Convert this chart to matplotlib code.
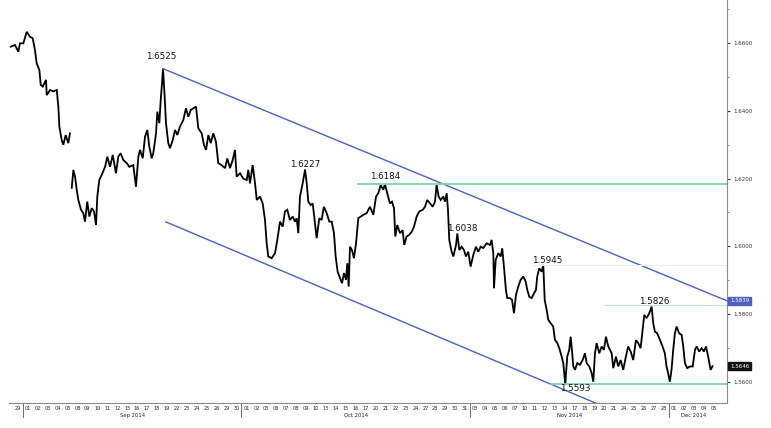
import numpy as np
import matplotlib
matplotlib.use("Agg")
import matplotlib.pyplot as plt
import matplotlib.transforms as mtransforms

# GBP/USD, time in trading days since 29 Aug 2014 (weekends removed)
t_days = [
    -0.21, 0.22, 0.55, 0.72, 1.06, 1.40, 1.73, 2.00, 2.23, 2.40, 2.67, 2.81, 3.01, 3.34, 3.41,
    3.74, 4.07, 4.42, 4.58, 4.68, 4.92, 5.08, 5.32, 5.58, 5.75, 5.85,
    5.93, 6.09, 6.26, 6.43, 6.59, 6.86, 7.09, 7.26, 7.49, 7.70, 7.94, 8.17, 8.37, 8.50, 8.70,
    8.94, 9.28, 9.51, 9.78, 10.05, 10.38, 10.61, 10.85, 11.12, 11.46, 11.72, 12.12, 12.39,
    12.63, 12.80, 13.07, 13.30, 13.53, 13.73, 13.97, 14.13, 14.41, 14.54, 14.74, 14.88, 15.01,
    15.11, 15.24, 15.41, 15.64, 15.81, 16.09, 16.32, 16.55, 16.82, 17.15, 17.42, 17.66, 17.90,
    18.16, 18.43, 18.66, 19.00, 19.23, 19.44, 19.67, 19.91, 20.17, 20.44, 20.67, 21.01, 21.35,
    21.58, 21.85, 22.12, 22.35, 22.52, 22.86, 23.19, 23.53, 23.69, 23.86, 24.13, 24.37, 24.54,
    24.87, 25.14, 25.37, 25.54, 25.70, 26.04, 26.38, 26.61, 26.88, 27.15, 27.38, 27.61, 27.88,
    28.16, 28.39, 28.56, 28.72, 28.89, 29.16, 29.40, 29.57, 29.73, 29.97, 30.17, 30.40, 30.57,
    30.83, 31.07, 31.30, 31.58, 31.84, 32.08, 32.31, 32.48, 32.68, 32.92, 33.12, 33.32, 33.52,
    33.65, 33.79, 33.92, 34.12, 34.32, 34.53, 34.76, 35.00, 35.26, 35.60, 35.93, 36.27, 36.54,
    36.77, 37.01, 37.27, 37.44, 37.67, 37.94, 38.15, 38.35, 38.48, 38.68, 38.95, 39.22, 39.38,
    39.62, 39.89, 40.13, 40.36, 40.63, 40.89, 41.24, 41.47, 41.70, 41.97, 42.24, 42.47, 42.64,
    42.84, 43.05, 43.31, 43.48, 43.65, 43.78, 43.91, 44.15, 44.32, 44.59, 44.72, 44.92, 45.16,
    45.39, 45.59, 45.82, 46.06, 46.33, 46.60, 46.83, 47.07, 47.33, 47.67, 48.00, 48.17, 48.34,
    48.41, 48.58, 48.84, 49.08, 49.24, 49.41, 49.61, 49.75, 50.02, 50.22, 50.42, 50.62, 50.85,
    51.09, 51.36, 51.60, 51.76, 51.96, 52.20, 52.43, 52.63, 52.76, 52.96, 53.20, 53.37, 53.51,
    53.71, 53.87, 54.11, 54.37, 54.54, 54.78, 54.98, 55.22, 55.38, 55.58, 55.78, 55.98, 56.12,
    56.25, 56.39, 56.56, 56.79, 57.06, 57.33, 57.56, 57.73, 58.00, 58.24, 58.40, 58.57, 58.74,
    59.00, 59.24, 59.47, 59.67, 59.91, 60.25, 60.41, 60.68, 60.91, 61.15, 61.41, 61.68, 61.91,
    62.16, 62.42, 62.69, 62.92, 63.16, 63.36, 63.53, 63.77, 64.03, 64.27, 64.43, 64.60, 64.83,
    65.10, 65.37, 65.60, 65.77, 65.93, 66.10, 66.27, 66.44, 66.61, 66.78, 67.04, 67.29, 67.45,
    67.62, 67.85, 68.12, 68.40, 68.63, 68.80, 69.06, 69.30, 69.53, 69.74, 69.96, 70.20, 70.40,
]
price = [
    1.6590, 1.6595, 1.6575, 1.6600, 1.6600, 1.6634, 1.6619, 1.6615, 1.6580, 1.6541, 1.6521, 1.6477, 1.6472, 1.6492, 1.6447,
    1.6462, 1.6458, 1.6462, 1.6413, 1.6354, 1.6314, 1.6300, 1.6329, 1.6305, 1.6334, np.nan,
    1.6173, 1.6226, 1.6206, 1.6167, 1.6137, 1.6108, 1.6098, 1.6073, 1.6132, 1.6088, 1.6113, 1.6103, 1.6063, 1.6147, 1.6196,
    1.6211, 1.6235, 1.6265, 1.6235, 1.6270, 1.6216, 1.6265, 1.6275, 1.6255, 1.6246, 1.6235, 1.6240, 1.6176,
    1.6265, 1.6285, 1.6260, 1.6324, 1.6344, 1.6295, 1.6260, 1.6275, 1.6334, 1.6398, 1.6364, 1.6433, 1.6482,
    1.6525, 1.6462, 1.6364, 1.6305, 1.6290, 1.6314, 1.6344, 1.6329, 1.6354, 1.6373, 1.6408, 1.6383, 1.6403,
    1.6408, 1.6413, 1.6349, 1.6334, 1.6300, 1.6285, 1.6329, 1.6305, 1.6334, 1.6309, 1.6246, 1.6240, 1.6231,
    1.6260, 1.6231, 1.6255, 1.6285, 1.6206, 1.6216, 1.6200, 1.6196, 1.6226, 1.6186, 1.6240, 1.6186, 1.6137,
    1.6147, 1.6127, 1.6078, 1.6009, 1.5970, 1.5965, 1.5980, 1.6019, 1.6073, 1.6058, 1.6103, 1.6108, 1.6078,
    1.6088, 1.6073, 1.6083, 1.6039, 1.6147, 1.6186, 1.6227, 1.6186, 1.6132, 1.6122, 1.6127, 1.6068, 1.6024,
    1.6083, 1.6078, 1.6117, 1.6098, 1.6073, 1.6073, 1.6039, 1.5970, 1.5925, 1.5906, 1.5891, 1.5921, 1.5901,
    1.5950, 1.5881, 1.5999, 1.5989, 1.5965, 1.6009, 1.6083, 1.6088, 1.6093, 1.6098, 1.6117, 1.6093, 1.6147,
    1.6157, 1.6181, 1.6167, 1.6184, 1.6157, 1.6127, 1.6132, 1.6113, 1.6029, 1.6063, 1.6039, 1.6048, 1.6004,
    1.6029, 1.6034, 1.6043, 1.6058, 1.6088, 1.6103, 1.6108, 1.6117, 1.6137, 1.6127, 1.6117, 1.6132, 1.6181,
    1.6147, 1.6137, 1.6147, 1.6132, 1.6157, 1.6108, 1.6019, 1.5984, 1.5970, 1.6004, 1.6038, 1.5989, 1.5999,
    1.5989, 1.5970, 1.5984, 1.5940, 1.5975, 1.5999, 1.5984, 1.5999, 1.5995, 1.6009, 1.6004, 1.6019, 1.5980,
    1.5876, 1.5960, 1.5980, 1.5970, 1.5994, 1.5940, 1.5871, 1.5847, 1.5847, 1.5842, 1.5802, 1.5856, 1.5881,
    1.5901, 1.5911, 1.5896, 1.5871, 1.5851, 1.5847, 1.5861, 1.5871, 1.5911, 1.5935, 1.5925, 1.5945, 1.5842,
    1.5812, 1.5783, 1.5773, 1.5763, 1.5724, 1.5714, 1.5699, 1.5674, 1.5655, 1.5593, 1.5674, 1.5694, 1.5733,
    1.5694, 1.5645, 1.5635, 1.5655, 1.5650, 1.5664, 1.5684, 1.5655, 1.5645, 1.5625, 1.5600, 1.5684, 1.5714,
    1.5684, 1.5704, 1.5694, 1.5733, 1.5704, 1.5684, 1.5640, 1.5674, 1.5645, 1.5664, 1.5635, 1.5674, 1.5704,
    1.5689, 1.5664, 1.5723, 1.5714, 1.5699, 1.5753, 1.5797, 1.5788, 1.5802, 1.5822, 1.5773, 1.5748, 1.5743,
    1.5724, 1.5704, 1.5684, 1.5645, 1.5625, 1.5600, 1.5635, 1.5694, 1.5743, 1.5763, 1.5743, 1.5738, 1.5704,
    1.5655, 1.5640, 1.5645, 1.5645, 1.5694, 1.5704, 1.5689, 1.5699, 1.5689, 1.5704, 1.5674, 1.5635, 1.5646,
]

day_labels = ['29',
    '01', '02', '03', '04', '05', '08', '09', '10', '11', '12', '15', '16', '17', '18', '19',
    '22', '23', '24', '25', '26', '29', '30',
    '01', '02', '03', '06', '07', '08', '09', '10', '13', '14', '15', '16', '17', '20', '21',
    '22', '23', '24', '27', '28', '29', '30', '31',
    '03', '04', '05', '06', '07', '10', '11', '12', '13', '14', '17', '18', '19', '20', '21',
    '24', '25', '26', '27', '28',
    '01', '02', '03', '04', '05']
month_names = ['Sep 2014', 'Oct 2014', 'Nov 2014', 'Dec 2014']
month_start = [1, 23, 46, 66]
month_end = [23, 46, 66, 71]

# annotated swing levels: (day, level, text)
swing_day = [14.9, 29.4, 37.5, 45.2, 53.8, 64.5, 56.6]
swing_val = [1.6562, 1.6243, 1.6206, 1.6053, 1.5957, 1.5837, 1.5581]
swing_txt = ['1.6525', '1.6227', '1.6184', '1.6038', '1.5945', '1.5826', '1.5593']

# channel lines (day, level)
upper_chan = ([15.11, 71.85], [1.6525, 1.5839])
lower_chan = ([15.41, 62.0], [1.6072, 1.5495])

# horizontal levels: (start day, level, colour, width)
h_start = [34.7, 54.1, 52.3, 59.6]
h_level = [1.6184, 1.5593, 1.5945, 1.5826]
h_color = ['#7fd4a8', '#7fd4a8', '#e3efe9', '#c4e4da']
h_width = [1.3, 1.3, 0.8, 0.8]

last_price = 1.5646
chan_end = 1.5839

XMIN, XMAX = -1.29, 71.85
YMIN, YMAX = 1.5537, 1.6728

fig = plt.figure(figsize=(7.71, 4.28), dpi=100)
ax = fig.add_axes([0.0, 0.0584, 0.9429, 0.9416])

ax.plot(t_days, price, color='black', lw=1.3, solid_joinstyle='miter')

ax.plot(upper_chan[0], upper_chan[1], color='#4b5fc6', lw=1.0)
ax.plot(lower_chan[0], lower_chan[1], color='#4b5fc6', lw=1.0)

for s, lv, c, w in zip(h_start, h_level, h_color, h_width):
    ax.plot([s, XMAX], [lv, lv], color=c, lw=w)

for d, v, txt in zip(swing_day, swing_val, swing_txt):
    ax.text(d, v, txt, ha='center', va='center', fontsize=6.3, color='#111111')

ax.set_xlim(XMIN, XMAX)
ax.set_ylim(YMIN, YMAX)

# right hand price axis
ax.yaxis.tick_right()
ax.set_yticks(np.arange(1.56, 1.6601, 0.02))
ax.set_yticklabels(['%.4f' % v for v in np.arange(1.56, 1.6601, 0.02)])
ax.set_yticks(np.arange(1.57, 1.6701, 0.02), minor=True)
ax.tick_params(axis='y', which='major', length=2.5, width=0.8, pad=2,
               labelsize=4, colors='#333333')
ax.tick_params(axis='y', which='minor', length=1.5, width=0.6, colors='#777777')

# day labels along the bottom
ax.set_xticks(np.arange(len(day_labels)) + 0.5)
ax.set_xticklabels(day_labels)
ax.tick_params(axis='x', length=0, pad=2.5, labelsize=3.6, colors='#222222')

for sp in ['left', 'top']:
    ax.spines[sp].set_visible(False)
ax.spines['right'].set_color('#8a8a8a')
ax.spines['bottom'].set_color('#8a8a8a')
ax.spines['right'].set_linewidth(0.8)
ax.spines['bottom'].set_linewidth(0.8)
ax.spines['bottom'].set_bounds(-0.4, XMAX)

trans = mtransforms.blended_transform_factory(ax.transData, ax.transAxes)
for ms, me, name in zip(month_start, month_end, month_names):
    ax.plot([ms, ms], [0, -0.035], transform=trans, color='#555555', lw=0.6, clip_on=False)
    ax.text((ms + me) / 2.0, -0.032, name, transform=trans, ha='center', va='center',
            fontsize=3.8, color='#222222')

# boxed value tags on the price axis
ax.text(1.004, chan_end, '%.4f' % chan_end, transform=ax.get_yaxis_transform(),
        ha='left', va='center', fontsize=4, color='white',
        bbox=dict(boxstyle='square,pad=0.25', fc='#4b5fc6', ec='#4b5fc6'))
ax.text(1.004, last_price, '%.4f' % last_price, transform=ax.get_yaxis_transform(),
        ha='left', va='center', fontsize=4, color='white',
        bbox=dict(boxstyle='square,pad=0.25', fc='#111111', ec='#111111'))

fig.savefig('out.png', dpi=100)
